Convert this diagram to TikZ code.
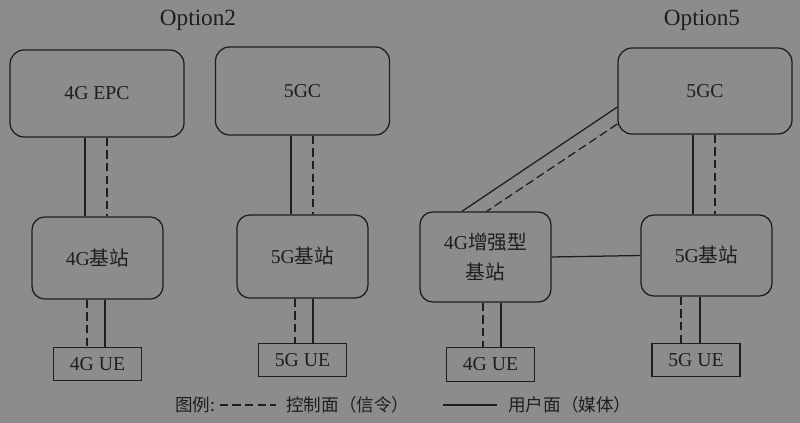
\documentclass[tikz,border=0pt]{standalone}
\usepackage{fontspec}
\setmainfont{Liberation Serif}
\newfontfamily\cjk{Noto Sans CJK SC}
\usetikzlibrary{positioning}
\definecolor{bggray}{HTML}{8C8C8C}
\definecolor{ink}{HTML}{1E1E1E}
\newcommand{\zh}[1]{{\cjk #1}}
\tikzset{
  corebox/.style={
    rectangle, rounded corners=10pt,
    draw=ink, line width=0.9pt, text=ink,
    minimum width=4.35cm, minimum height=2.175cm,
    align=center, font=\fontsize{14}{21}\selectfont
  },
  stationbox/.style={corebox, rounded corners=9pt, minimum width=3.275cm, minimum height=2.05cm},
  uebox/.style={corebox, rounded corners=0pt, minimum width=2.2cm, minimum height=0.825cm},
  title/.style={text=ink, font=\fontsize{16.5}{19}\selectfont},
  legendtext/.style={text=ink, inner sep=0pt, font=\cjk\fontsize{12.5}{15}\selectfont},
  userline/.style={draw=ink, line width=0.9pt},
  ctrlline/.style={draw=ink, line width=0.9pt, dash pattern=on 6pt off 3pt},
}

\begin{document}
\begin{tikzpicture}
  \fill[bggray] (0,0) rectangle (20,-10.575);

  \node[title] (opt2) at (4.95,-0.5) {Option2};
  \node[title] (opt5) at (17.55,-0.5) {Option5};

  \node[corebox] (epc) at (2.425,-2.3375) {4G EPC};
  \node[corebox, minimum height=2.2cm] (gcL) at (7.5625,-2.275) {5GC};
  \node[corebox, minimum height=2.15cm] (gcR) at (17.625,-2.275) {5GC};

  \node[stationbox] (bs4) at (2.4375,-6.45) {4G\zh{基站}};
  \node[stationbox, minimum height=2.075cm] (bs5L) at (7.5625,-6.4125) {5G\zh{基站}};
  \node[stationbox, minimum height=2.25cm] (bs4e) at (12.1375,-6.425) {4G\zh{增强型}\\\zh{基站}};
  \node[stationbox, minimum height=2.025cm] (bs5R) at (17.6625,-6.3875) {5G\zh{基站}};

  \node[uebox, below=1.175cm of bs4] (ue4L) {4G UE};
  \node[uebox, below=1.1cm of bs5L] (ue5L) {5G UE};
  \node[uebox, below=1.1cm of bs4e, xshift=0.125cm, minimum height=0.85cm] (ue4R) {4G UE};
  \node[uebox, below=1.15cm of bs5R, xshift=-0.2625cm] (ue5R) {5G UE};

  \foreach \up/\low/\dx/\kind in {
      epc/bs4/-0.3/userline, epc/bs4/0.25/ctrlline,
      gcL/bs5L/-0.29/userline, gcL/bs5L/0.26/ctrlline,
      gcR/bs5R/-0.3/userline, gcR/bs5R/0.25/ctrlline,
      bs4/ue4L/-0.26/ctrlline, bs4/ue4L/0.19/userline,
      bs5L/ue5L/-0.19/ctrlline, bs5L/ue5L/0.26/userline,
      bs4e/ue4R/-0.06/ctrlline, bs4e/ue4R/0.39/userline,
      bs5R/ue5R/-0.64/ctrlline, bs5R/ue5R/-0.16/userline}
    \draw[\kind] ([xshift=\dx cm]\up.south) -- ([xshift=\dx cm]\up.south |- \low.north);

  \draw[userline] ([yshift=-0.4cm]gcR.west) -- ([xshift=-0.59cm]bs4e.north);
  \draw[ctrlline] ([yshift=-0.825cm]gcR.west) -- ([xshift=0.03cm]bs4e.north);
  \draw[userline] (bs4e.east) -- (bs5R.west);

  \node[legendtext, anchor=west] (lgd) at (4.375,-10.125) {图例:};
  \node[legendtext, anchor=west] (ctl) at (7.15,-10.125) {控制面（信令）};
  \node[legendtext, anchor=west] (usr) at (12.7,-10.125) {用户面（媒体）};
  \draw[ctrlline, shorten <=0.1cm, shorten >=0.25cm] (lgd.east) -- (ctl.west);
  \draw[userline, shorten <=0.825cm, shorten >=0.275cm] (ctl.east) -- (usr.west);
\end{tikzpicture}
\end{document}
